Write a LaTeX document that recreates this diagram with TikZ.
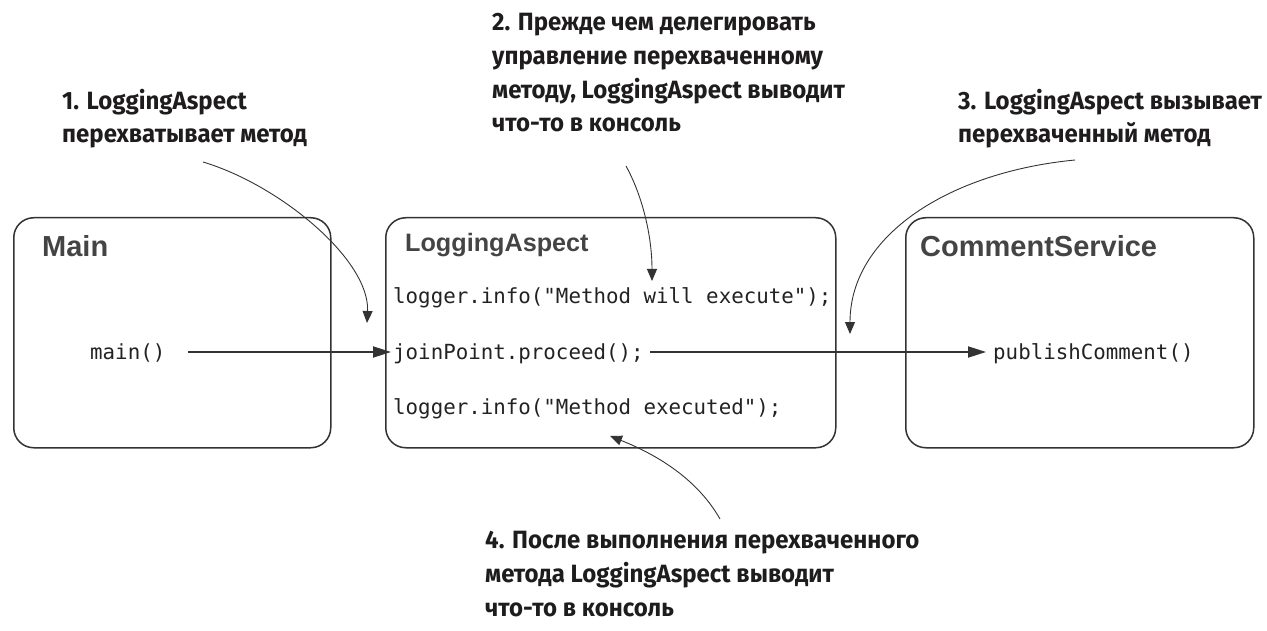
\documentclass[tikz,border=0pt]{standalone}
\usepackage{fontspec}
\setmainfont{Liberation Sans}
\newfontfamily\annotfont{Fira Sans}[FakeStretch=0.96]
\newfontfamily\titlefont{Liberation Sans}
\newfontfamily\codefont{DejaVu Sans Mono}
\usetikzlibrary{arrows.meta}
\definecolor{boxline}{HTML}{333333}
\definecolor{titlegray}{HTML}{444444}
\definecolor{annot}{HTML}{1E1C1D}
\definecolor{codetext}{HTML}{222222}
\begin{document}
\begin{tikzpicture}[x=1pt,y=-1pt,
  classbox/.style={draw=boxline, line width=1.5pt, rounded corners=20pt, anchor=north west, inner sep=0},
  boxtitle/.style={font=\titlefont\bfseries\fontsize{29}{34}\selectfont, text=titlegray, anchor=base west, inner sep=0},
  codeline/.style={font=\codefont\fontsize{20.8}{25}\selectfont, text=codetext, anchor=base west, inner sep=0},
  note/.style={font=\annotfont\bfseries\fontsize{25}{33.7}\selectfont, text=annot, align=left, anchor=base west, inner sep=0},
  callarrow/.style={draw=boxline, line width=2pt, -{Triangle[length=18pt,width=11pt]}},
  notearrow/.style={draw=boxline, line width=0.9pt, -{Triangle[length=12pt,width=10pt]}},
]
\useasboundingbox (0,0) rectangle (1267,631);

% class boxes
\node[classbox, minimum width=317pt, minimum height=230pt] (mainbox) at (13,217) {};
\node[classbox, minimum width=450pt, minimum height=230pt] (aspectbox) at (385,217) {};
\node[classbox, minimum width=348pt, minimum height=230pt] (servicebox) at (905,217) {};

% titles
\node[boxtitle] (maintitle) at (42,257) {Main};
\node[boxtitle, font=\titlefont\bfseries\fontsize{25.2}{30}\selectfont] (aspecttitle) at (405,252) {LoggingAspect};
\node[boxtitle] (servicetitle) at (920,257) {CommentService};

% code
\node[codeline] (mainm) at (90,359) {main()};
\node[codeline] (before) at (393,303) {logger.info("Method will execute");};
\node[codeline] (jp) at (393,359) {joinPoint.proceed();};
\node[codeline] (after) at (393,414) {logger.info("Method executed");};
\node[codeline] (pc) at (993,359) {publishComment()};

% call arrows
\draw[callarrow] ([xshift=22pt]mainm.east |- 0,352) -- ([xshift=-2pt]jp.west |- 0,352);
\draw[callarrow] ([xshift=6pt]jp.east |- 0,352) -- ([xshift=-7pt]pc.west |- 0,352);

% notes (anchor = baseline of the last line)
\node[note] (n1) at (62,143) {1. LoggingAspect\\перехватывает метод};
\node[note] (n2) at (492,132) {2. Прежде чем делегировать\\управление перехваченному\\методу, LoggingAspect выводит\\что-то в консоль};
\node[note] (n3) at (958,143) {3. LoggingAspect вызывает\\перехваченный метод};
\node[note] (n4) at (485,616) {4. После выполнения перехваченного\\метода LoggingAspect выводит\\что-то в консоль};

% note arrows
\coordinate (s1) at (203,162);
\coordinate (t1) at (367,323);
\coordinate (s2) at (626,166);
\coordinate (t2) at (652,281);
\coordinate (s3) at (1075,160);
\coordinate (t3) at (850,334);
\coordinate (s4) at (720,519);
\coordinate (t4) at (610,436);
\draw[notearrow] (s1) .. controls (280,185) and (370,260) .. (t1);
\draw[notearrow] (s2) .. controls (642,195) and (652,235) .. (t2);
\draw[notearrow] (s3) .. controls (950,172) and (850,235) .. (t3);
\draw[notearrow] (s4) .. controls (695,475) and (650,452) .. (t4);
\end{tikzpicture}
\end{document}
